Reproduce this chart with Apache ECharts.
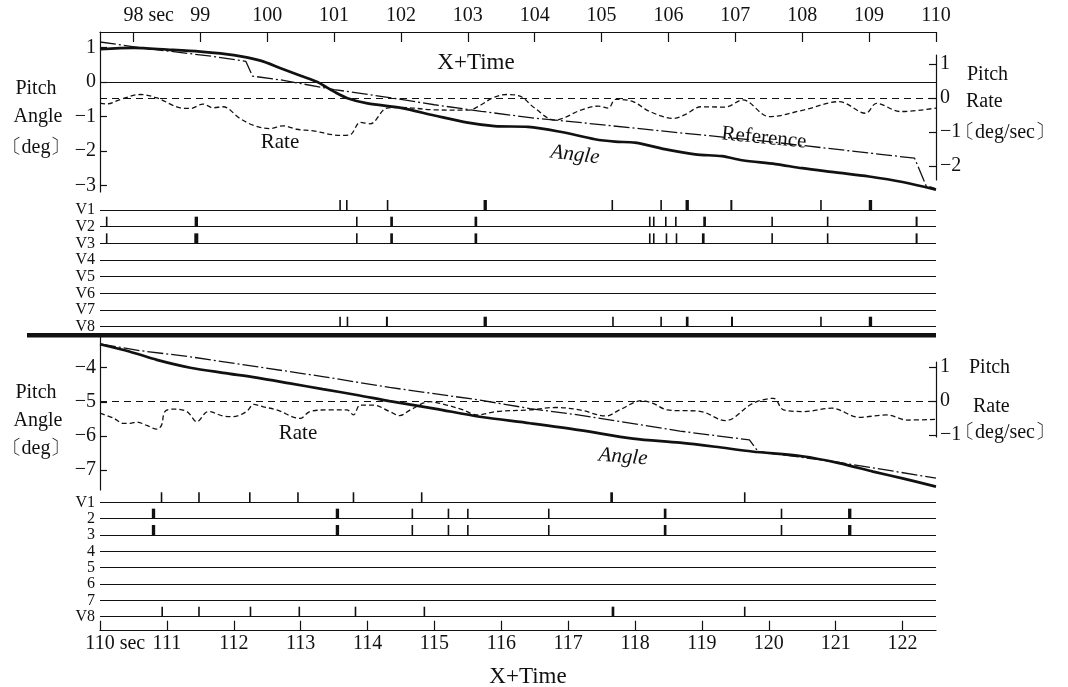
<!DOCTYPE html>
<html><head><meta charset="utf-8">
<script src="https://cdn.jsdelivr.net/npm/echarts@6/dist/echarts.min.js"></script>
<style>html,body{margin:0;padding:0;background:#fff}#c{width:1068px;height:687px}</style>
</head><body><div id="c"></div><script>
// ---------- tick labels ----------
const topTimeTicks = [98,99,100,101,102,103,104,105,106,107,108,109,110];
const botTimeTicks = [110,111,112,113,114,115,116,117,118,119,120,121,122];
const topAngleTicks = [1,0,-1,-2,-3];
const topRateTicks = [1,0,-1,-2];
const botAngleTicks = [-4,-5,-6,-7];
const botRateTicks = [1,0,-1];
const topValveNames = ['V1','V2','V3','V4','V5','V6','V7','V8'];
const botValveNames = ['V1','2','3','4','5','6','7','V8'];

// ---------- top panel (97.5 - 110 s) ----------
const topAngleT = [97.5,98.0,98.5,99.0,99.5,99.9,100.2,100.5,100.75,101.0,101.2,101.5,102.0,102.5,103.0,103.4,103.9,104.4,104.9,105.2,105.5,106.0,106.4,106.8,107.1,107.6,108.0,108.5,109.0,109.5,110.0];
const topAngleV = [0.95,0.99,0.94,0.88,0.78,0.62,0.40,0.18,0.0,-0.28,-0.47,-0.62,-0.75,-0.97,-1.18,-1.28,-1.30,-1.45,-1.66,-1.73,-1.76,-1.97,-2.10,-2.15,-2.27,-2.38,-2.50,-2.62,-2.74,-2.90,-3.12];
const topRefT = [97.5,98.2,99.2,99.68,99.78,100.2,101.0,101.75,102.5,103.2,104.0,104.45,106.0,107.5,109.05,109.68,109.85,110.0];
const topRefV = [1.16,0.97,0.74,0.60,0.17,0.06,-0.22,-0.43,-0.66,-0.85,-1.05,-1.13,-1.44,-1.73,-2.07,-2.21,-3.0,-3.1];
const topRateT = [97.5,97.6,97.8,98.1,98.35,98.7,98.85,99.04,99.19,99.34,99.59,99.79,100.04,100.24,100.44,100.69,101.09,101.24,101.39,101.54,101.79,102.0,102.5,103.0,103.2,103.37,103.58,103.78,104.0,104.3,104.7,104.95,105.1,105.21,105.47,105.72,106.08,106.24,106.49,106.85,107.11,107.51,108.03,108.55,108.95,109.11,109.47,110.0];
const topRateV = [-0.15,-0.18,-0.05,0.10,0.0,-0.29,-0.31,-0.18,-0.29,-0.26,-0.6,-0.8,-0.9,-0.82,-0.92,-0.97,-1.1,-1.08,-0.72,-0.76,-0.30,-0.28,-0.35,-0.36,-0.2,0.0,0.1,0.05,-0.3,-0.65,-0.35,-0.24,-0.3,-0.04,-0.11,-0.4,-0.6,-0.5,-0.26,-0.27,-0.06,-0.55,-0.35,-0.11,-0.45,-0.16,-0.4,-0.3];
// valve pulses: [time, duration]
const topV1 = [[101.09,0.02],[101.19,0.02],[101.8,0.02],[103.26,0.05],[105.16,0.02],[105.89,0.02],[106.28,0.05],[106.94,0.03],[108.28,0.02],[109.02,0.05]];
const topV2 = [[97.6,0.02],[98.94,0.05],[101.34,0.02],[101.86,0.04],[103.12,0.04],[105.72,0.02],[105.78,0.02],[105.96,0.02],[106.11,0.02],[106.54,0.04],[107.55,0.02],[108.38,0.02],[109.71,0.03]];
const topV3 = [[97.6,0.02],[98.94,0.06],[101.34,0.02],[101.86,0.04],[103.12,0.04],[105.72,0.02],[105.78,0.02],[105.97,0.02],[106.12,0.02],[106.52,0.04],[107.55,0.02],[108.38,0.02],[109.71,0.03]];
const topV4 = [], topV5 = [], topV6 = [], topV7 = [];
const topV8 = [[101.09,0.02],[101.2,0.02],[101.79,0.03],[103.26,0.05],[105.17,0.02],[105.89,0.02],[106.28,0.04],[106.95,0.03],[108.28,0.02],[109.02,0.05]];

// ---------- bottom panel (110 - 122.5 s) ----------
const botAngleT = [110.0,110.45,110.85,111.35,111.84,112.34,112.84,113.33,113.84,114.33,115.0,115.68,116.43,117.17,117.97,118.67,119.2,119.75,120.5,121.05,121.56,122.0,122.5];
const botAngleV = [-3.31,-3.53,-3.77,-4.0,-4.15,-4.29,-4.46,-4.63,-4.8,-4.98,-5.2,-5.44,-5.63,-5.83,-6.08,-6.2,-6.32,-6.46,-6.6,-6.8,-7.05,-7.25,-7.49];
const botRefT = [110.0,110.6,111.35,112.34,113.33,114.33,115.68,116.43,117.17,118.67,119.71,119.84,121.05,122.5];
const botRefV = [-3.3,-3.5,-3.68,-3.97,-4.26,-4.58,-4.95,-5.2,-5.39,-5.86,-6.12,-6.46,-6.78,-7.24];
const botRateT = [110.0,110.2,110.35,110.45,110.55,110.7,110.85,110.92,110.97,111.1,111.3,111.45,111.57,111.62,111.84,111.99,112.19,112.3,112.44,112.64,112.99,113.14,113.44,113.69,113.79,113.89,114.09,114.33,114.48,114.65,114.93,115.18,115.43,115.63,115.93,116.43,116.81,117.17,117.57,117.77,118.1,118.27,118.48,118.99,119.35,119.76,120.07,120.22,120.53,120.94,121.35,121.76,122.07,122.5];
const botRateV = [-0.36,-0.5,-0.66,-0.66,-0.62,-0.72,-0.83,-0.71,-0.31,-0.24,-0.31,-0.61,-0.36,-0.31,-0.44,-0.46,-0.31,-0.1,-0.17,-0.26,-0.51,-0.31,-0.26,-0.26,-0.41,-0.12,-0.12,-0.31,-0.43,-0.25,-0.02,-0.12,-0.26,-0.41,-0.31,-0.26,-0.19,-0.26,-0.44,-0.26,0.01,-0.07,-0.26,-0.31,-0.58,-0.07,0.08,-0.26,-0.31,-0.21,-0.48,-0.41,-0.56,-0.54];
const botV1 = [[110.92,0.02],[111.48,0.02],[112.24,0.02],[112.96,0.02],[113.79,0.02],[114.81,0.02],[117.65,0.04],[119.64,0.02]];
const botV2 = [[110.8,0.05],[113.55,0.05],[114.67,0.02],[115.21,0.02],[115.5,0.02],[116.71,0.02],[118.45,0.04],[120.19,0.02],[121.21,0.05]];
const botV3 = [[110.8,0.05],[113.55,0.05],[114.67,0.02],[115.21,0.02],[115.5,0.02],[116.71,0.02],[118.45,0.04],[120.19,0.02],[121.21,0.05]];
const botV4 = [], botV5 = [], botV6 = [], botV7 = [];
const botV8 = [[110.93,0.02],[111.48,0.02],[112.25,0.02],[112.98,0.02],[113.82,0.02],[114.85,0.02],[117.67,0.04],[119.64,0.02]];

// ---------- helpers ----------
const FONT = '"Liberation Serif","DejaVu Serif",serif';
const INK = '#111';
const zip = (a,b) => a.map((v,i) => [v,b[i]]);
const minus = v => v < 0 ? '\u2212' + Math.abs(v) : String(v);
const valveData = rows => {
  const out = [];
  rows.forEach((r,ri) => r.forEach(p => out.push([p[0], p[1], ri])));
  return out;
};
const pulse = (params, api) => {
  const p = api.coord([api.value(0), api.value(2)]);
  const w = Math.max(api.size([api.value(1), 0])[0], 1.6);
  return {type:'rect', shape:{x:p[0]-w/2, y:p[1]-10, width:w, height:10}, style:{fill:INK}};
};
const G = (top,height) => ({left:100, width:836, top:top, height:height, outerBoundsMode:'none', containLabel:false});
const hiddenX = (gi,min,max) => ({type:'value', gridIndex:gi, min:min, max:max, show:false});
const timeAxis = (gi,min,max,pos,ticks,first,margin,offset) => ({
  type:'value', gridIndex:gi, position:pos, min:min, max:max, offset:offset||0,
  axisLine:{show:true, onZero:false, lineStyle:{color:INK, width:1.2}},
  axisTick:{show:true, inside:true, length:10, customValues:ticks, lineStyle:{color:INK, width:1.2}},
  axisLabel:{customValues:ticks, color:INK, fontFamily:FONT, fontSize:20, margin:margin,
    formatter: v => v === first ? '{h| sec}' + v + ' sec' : String(v),
    rich:{h:{color:'transparent', fontFamily:FONT, fontSize:20}}},
  splitLine:{show:false}
});
const valAxis = (gi,min,max,pos,ticks) => ({
  type:'value', gridIndex:gi, position:pos, min:min, max:max,
  axisLine:{show:true, onZero:false, lineStyle:{color:INK, width:1.2}},
  axisTick:{show:true, inside:true, length:7, customValues:ticks, lineStyle:{color:INK, width:1.2}},
  axisLabel:{customValues:ticks, color:INK, fontFamily:FONT, fontSize:20, margin:4, formatter:minus},
  splitLine:{show:false}
});
const catAxis = (gi,names) => ({
  type:'category', gridIndex:gi, data:names, inverse:true, boundaryGap:false,
  axisLine:{show:false}, axisTick:{show:false},
  axisLabel:{color:INK, fontFamily:FONT, fontSize:16, margin:5, interval:0, padding:[0,0,3,0]},
  splitLine:{show:true, interval:0, lineStyle:{color:INK, width:1.2}}
});
const text = (t,x,y,opt) => Object.assign({type:'text', x:x, y:y,
  style:Object.assign({text:t, font:'20px ' + FONT, fill:INK, align:'center', verticalAlign:'middle'}, (opt&&opt.style)||{})},
  opt && opt.rotation !== undefined ? {rotation:opt.rotation} : {});

const zeroLine = (type) => ({silent:true, symbol:'none', label:{show:false},
  lineStyle:{color:INK, width:1, type:type}, data:[{yAxis:0}]});

const option = {
  animation:false,
  backgroundColor:'#fff',
  grid:[G(32,160), G(55,125), G(210,116.7), G(335,155), G(362,75), G(502.3,114.4)],
  xAxis:[
    timeAxis(0,97.5,110,'top',topTimeTicks,98,6,0),
    hiddenX(1,97.5,110), hiddenX(2,97.5,110),
    hiddenX(3,110,122.5), hiddenX(4,110,122.5),
    timeAxis(5,110,122.5,'bottom',botTimeTicks,110,3,14)
  ],
  yAxis:[
    valAxis(0,-3.19,1.45,'left',topAngleTicks),
    valAxis(1,-2.41,1.26,'right',topRateTicks),
    catAxis(2,topValveNames),
    valAxis(3,-7.59,-3.04,'left',botAngleTicks),
    valAxis(4,-1.06,1.15,'right',botRateTicks),
    catAxis(5,botValveNames)
  ],
  series:[
    {type:'line', xAxisIndex:0, yAxisIndex:0, data:zip(topAngleT,topAngleV), showSymbol:false, smooth:0.3,
      lineStyle:{color:INK, width:2.7}, markLine:zeroLine('solid')},
    {type:'line', xAxisIndex:0, yAxisIndex:0, data:zip(topRefT,topRefV), showSymbol:false,
      lineStyle:{color:INK, width:1.3, type:[16,3,2,3]}},
    {type:'line', xAxisIndex:1, yAxisIndex:1, data:zip(topRateT,topRateV), showSymbol:false, smooth:0.35,
      lineStyle:{color:INK, width:1.3, type:[5,3]}, markLine:zeroLine([7,5])},
    {type:'custom', xAxisIndex:2, yAxisIndex:2, renderItem:pulse, encode:{x:0, y:2},
      data:valveData([topV1,topV2,topV3,topV4,topV5,topV6,topV7,topV8])},
    {type:'line', xAxisIndex:3, yAxisIndex:3, data:zip(botAngleT,botAngleV), showSymbol:false, smooth:0.3,
      lineStyle:{color:INK, width:2.7}},
    {type:'line', xAxisIndex:3, yAxisIndex:3, data:zip(botRefT,botRefV), showSymbol:false,
      lineStyle:{color:INK, width:1.3, type:[16,3,2,3]}},
    {type:'line', xAxisIndex:4, yAxisIndex:4, data:zip(botRateT,botRateV), showSymbol:false, smooth:0.35,
      lineStyle:{color:INK, width:1.3, type:[5,3]}, markLine:zeroLine([7,5])},
    {type:'custom', xAxisIndex:5, yAxisIndex:5, renderItem:pulse, encode:{x:0, y:2},
      data:valveData([botV1,botV2,botV3,botV4,botV5,botV6,botV7,botV8])}
  ],
  graphic:[
    {type:'rect', shape:{x:27, y:333, width:909, height:4.5}, style:{fill:INK}},
    text('X+Time',476,63,{style:{font:'23px ' + FONT}}),
    text('X+Time',528,677,{style:{font:'23px ' + FONT}}),
    text('Pitch',36,89), text('Angle',38,117), text('〔deg〕',36,148),
    text('Pitch',36,393), text('Angle',38,421), text('〔deg〕',36,449),
    text('Pitch',967,75,{style:{align:'left'}}), text('Rate',966,102,{style:{align:'left'}}),
    text('〔deg/sec〕',955,133,{style:{align:'left'}}),
    text('Pitch',969,368,{style:{align:'left'}}), text('Rate',973,407,{style:{align:'left'}}),
    text('〔deg/sec〕',955,433,{style:{align:'left'}}),
    text('Rate',280,142,{style:{font:'21px ' + FONT}}),
    text('Rate',298,433,{style:{font:'21px ' + FONT}}),
    text('Angle',575,155,{rotation:-0.12, style:{font:'italic 21px ' + FONT}}),
    text('Angle',623,457,{rotation:-0.08, style:{font:'italic 21px ' + FONT}}),
    text('Reference',764,138,{rotation:-0.1, style:{font:'21px ' + FONT}})
  ]
};
echarts.init(document.getElementById('c'), null, {renderer:'canvas'}).setOption(option);
</script></body></html>
